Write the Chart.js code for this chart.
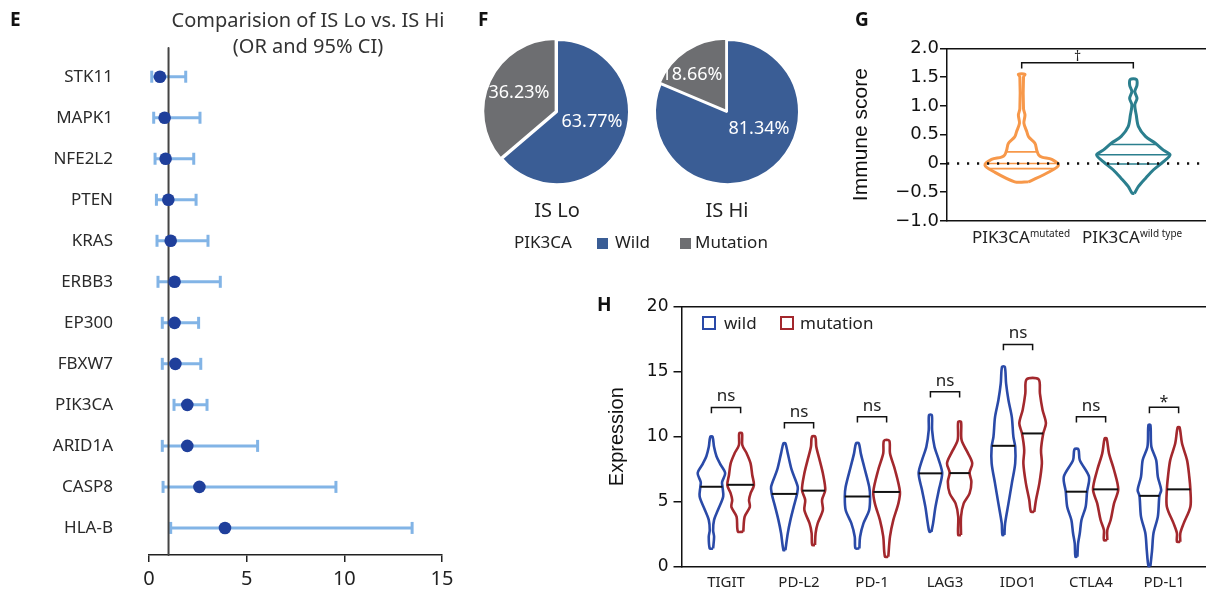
<!DOCTYPE html>
<html><head><meta charset="utf-8">
<script src="https://cdn.jsdelivr.net/npm/chart.js@4.4.1/dist/chart.umd.min.js"></script>
<style>
html,body{margin:0;padding:0;background:#fff;}
body{position:relative;width:1206px;height:596px;overflow:hidden;font-family:'Noto Sans',sans-serif;color:#222;}
canvas{position:absolute;}
.t{position:absolute;white-space:nowrap;line-height:1;}
.letter{font-weight:700;font-size:19px;color:#111;}
.sq{position:absolute;box-sizing:border-box;}
</style></head><body>
<canvas id="cE" width="460" height="596" style="left:0;top:0"></canvas>
<canvas id="cF1" width="180" height="180" style="left:467px;top:22px"></canvas>
<canvas id="cF2" width="180" height="180" style="left:637px;top:22px"></canvas>
<canvas id="cG" width="366" height="260" style="left:840px;top:0"></canvas>
<canvas id="cH" width="616" height="306" style="left:590px;top:290px"></canvas>

<div class="t letter" style="left:10px;top:10px">E</div>
<div class="t letter" style="left:478px;top:10px">F</div>
<div class="t letter" style="left:855px;top:10px">G</div>
<div class="t letter" style="left:597px;top:295px">H</div>

<div class="t" style="left:158px;top:6.5px;width:300px;text-align:center;font-size:20px;line-height:26px;color:#333">Comparision of IS Lo vs. IS Hi<br>(OR and 95% CI)</div>

<div class="t" id="pieName0" style="left:507px;top:200px;width:100px;text-align:center;font-size:20px;color:#222"></div>
<div class="t" id="pieName1" style="left:677px;top:200px;width:100px;text-align:center;font-size:20px;color:#222"></div>
<div class="t" style="left:514px;top:233px;font-size:17px;color:#222">PIK3CA</div>
<div class="sq" style="left:597px;top:238px;width:11px;height:11px;background:#3a5d95"></div>
<div class="t" id="legF0" style="left:615px;top:233px;font-size:17px;color:#222"></div>
<div class="sq" style="left:680px;top:238px;width:11px;height:11px;background:#6d6e71"></div>
<div class="t" id="legF1" style="left:695px;top:233px;font-size:17px;color:#222"></div>

<div class="t" id="gLab0" style="left:972px;top:228px;font-size:17px;color:#222"></div>
<div class="t" id="gLab1" style="left:1082px;top:228px;font-size:17px;color:#222"></div>

<div class="sq" style="left:702px;top:316px;width:14px;height:14px;border:2.5px solid #2a4aa8"></div>
<div class="t" id="legH0" style="left:724px;top:314px;font-size:17px;color:#222"></div>
<div class="sq" style="left:780px;top:316px;width:14px;height:14px;border:2.5px solid #a3282d"></div>
<div class="t" id="legH1" style="left:800px;top:314px;font-size:17px;color:#222"></div>

<script>
// ================= DATA =================
// Panel E: odds ratios and 95% CI
const genes   = ['STK11','MAPK1','NFE2L2','PTEN','KRAS','ERBB3','EP300','FBXW7','PIK3CA','ARID1A','CASP8','HLA-B'];
const orValues = [0.56,0.80,0.85,0.99,1.11,1.31,1.31,1.35,1.96,1.96,2.58,3.89];
const ciLow    = [0.14,0.24,0.31,0.38,0.41,0.46,0.68,0.68,1.28,0.68,0.72,1.11];
const ciHigh   = [1.88,2.61,2.29,2.41,3.02,3.65,2.54,2.65,2.97,5.56,9.57,13.47];
const orTicks  = [0,5,10,15];

// Panel F: PIK3CA status share
const pieGroups = ['IS Lo','IS Hi'];
const pieCategories = ['Wild','Mutation'];
const isLoPct = [63.77, 36.23];
const isHiPct = [81.34, 18.66];

// Panel G: immune score violins  [value, relative density]
const immuneGroups = ['mutated','wild type'];
const immuneTicks = [-1,-0.5,0,0.5,1,1.5,2];
const immuneMutated = [[-0.32,0.19],[-0.14,0.77],[-0.03,1.0],[0.07,0.82],[0.11,0.55],[0.15,0.46],[0.23,0.41],[0.35,0.36],[0.46,0.19],[0.55,0.14],[0.70,0.06],[0.84,0.09],[0.95,0.05],[1.50,0.05],[1.55,0.09]];
const immuneWild = [[-0.52,0.03],[-0.40,0.14],[-0.26,0.33],[-0.11,0.55],[0.03,0.82],[0.15,1.0],[0.23,0.82],[0.35,0.6],[0.47,0.33],[0.64,0.14],[0.84,0.08],[1.02,0.04],[1.13,0.1],[1.25,0.04],[1.36,0.1],[1.46,0.08]];
const immuneMutatedQuartiles = [-0.09, 0.0, 0.2];
const immuneWildQuartiles = [-0.01, 0.15, 0.33];
const immuneBracket = 1.75;

// Panel H: checkpoint expression violins [value, relative density]
const hGenes = ['TIGIT','PD-L2','PD-1','LAG3','IDO1','CTLA4','PD-L1'];
const hSeries = ['wild','mutation'];
const hTicks = [0,5,10,15,20];
const wildProfiles = [
  [[1.4,0.12],[2.3,0.19],[2.8,0.12],[3.6,0.19],[4.4,0.48],[5.4,0.84],[6.15,0.79],[6.5,0.76],[7.2,0.98],[7.95,0.6],[8.5,0.36],[9.2,0.19],[10.0,0.08]],
  [[1.28,0.07],[2.57,0.24],[3.6,0.43],[4.6,0.66],[5.59,0.9],[6.15,0.95],[7.44,0.52],[8.72,0.24],[9.49,0.07]],
  [[1.41,0.14],[2.31,0.19],[3.33,0.43],[4.36,0.84],[5.38,0.9],[6.15,0.84],[7.69,0.48],[8.72,0.24],[9.49,0.1]],
  [[2.69,0.07],[3.33,0.19],[4.6,0.36],[5.9,0.6],[7.18,0.84],[8.2,0.6],[9.23,0.29],[10.5,0.12],[11.67,0.1]],
  [[2.44,0.07],[3.33,0.12],[4.87,0.36],[6.41,0.6],[7.95,0.84],[9.23,0.84],[10.0,0.71],[11.5,0.6],[12.8,0.36],[14.1,0.19],[15.38,0.1]],
  [[0.77,0.07],[1.8,0.12],[2.57,0.24],[3.59,0.36],[4.62,0.66],[5.77,0.76],[6.92,0.9],[8.2,0.24],[9.03,0.14]],
  [[0.05,0.07],[1.28,0.19],[2.57,0.29],[3.85,0.6],[5.44,0.71],[5.9,0.84],[6.92,0.6],[8.2,0.48],[9.23,0.14],[10.9,0.07]]
];
const mutProfiles = [
  [[2.7,0.19],[3.85,0.29],[4.6,0.66],[5.13,0.6],[5.64,0.71],[6.28,0.95],[7.05,0.83],[7.95,0.71],[8.72,0.43],[9.36,0.12],[10.26,0.1]],
  [[1.67,0.1],[2.57,0.14],[3.33,0.29],[4.36,0.66],[5.13,0.6],[5.9,0.83],[7.18,0.66],[8.2,0.43],[9.23,0.19],[10.0,0.12]],
  [[0.77,0.12],[2.31,0.24],[3.6,0.48],[4.87,0.84],[5.77,0.95],[7.44,0.6],[8.72,0.24],[9.69,0.19]],
  [[2.44,0.1],[3.85,0.1],[4.87,0.29],[5.64,0.71],[6.54,0.84],[7.23,0.71],[7.95,0.9],[8.72,0.6],[9.74,0.14],[11.15,0.1]],
  [[4.23,0.12],[5.13,0.24],[6.41,0.48],[7.95,0.66],[8.97,0.6],[10.26,0.76],[11.03,0.95],[12.05,0.71],[13.33,0.52],[14.41,0.43]],
  [[2.05,0.12],[2.82,0.12],[3.59,0.36],[4.87,0.6],[5.95,0.9],[7.44,0.6],[8.72,0.24],[9.87,0.07]],
  [[1.92,0.12],[2.57,0.12],[3.33,0.36],[4.62,0.84],[5.9,0.84],[6.92,0.76],[8.2,0.6],[9.49,0.24],[10.72,0.07]]
];
const wildMedians = [6.15,5.6,5.4,7.18,9.3,5.77,5.45];
const mutMedians  = [6.3,5.85,5.75,7.2,10.25,5.95,5.95];
const bracketTops = [12.25,11.08,11.54,13.46,17.1,11.54,12.26];
const sigLabels   = ['ns','ns','ns','ns','ns','ns','*'];

// ================= HELPERS =================
const NOTO = "'Noto Sans', sans-serif";
const DEJAVU = "'DejaVu Sans', sans-serif";
const LIB = "'Liberation Sans', Arial, sans-serif";

function outline(profile, cx, W){
  const right = profile.map(([v,d])=>({x:cx+d*W, y:v}));
  const left = profile.slice().reverse().map(([v,d])=>({x:cx-d*W, y:v}));
  return right.concat(left, [right[0]]);
}
function halfAt(profile, v){
  for(let i=0;i<profile.length-1;i++){
    const [v0,d0]=profile[i],[v1,d1]=profile[i+1];
    if(v>=v0 && v<=v1) return d0+(d1-d0)*(v-v0)/(v1-v0);
  }
  return 0;
}
function seg(x0,x1,y){ return [{x:x0,y:y},{x:x1,y:y}]; }
function lineDs(data, color, width, order, extra){
  return Object.assign({type:'scatter', showLine:true, data, borderColor:color, borderWidth:width,
    pointRadius:0, pointHoverRadius:0, order, clip:false, borderJoinStyle:'round'}, extra||{});
}

// text from data
document.getElementById('pieName0').textContent = pieGroups[0];
document.getElementById('pieName1').textContent = pieGroups[1];
document.getElementById('legF0').textContent = pieCategories[0];
document.getElementById('legF1').textContent = pieCategories[1];
document.getElementById('legH0').textContent = hSeries[0];
document.getElementById('legH1').textContent = hSeries[1];
immuneGroups.forEach((g,i)=>{
  const el = document.getElementById('gLab'+i);
  el.innerHTML = 'PIK3CA<span style="font-size:10px;vertical-align:6px">'+g+'</span>';
});

Chart.defaults.animation = false;
Chart.defaults.events = [];
Chart.defaults.plugins.legend.display = false;
Chart.defaults.plugins.tooltip.enabled = false;

// ================= PANEL E =================
const errColor = '#82b4e6';
const eDatasets = [];
eDatasets.push({type:'scatter', data: genes.map((g,i)=>({x:orValues[i], y:i})), pointRadius:6.3,
  pointBackgroundColor:'#1f3f9b', pointBorderWidth:0, showLine:false, order:1, clip:false});
eDatasets.push(lineDs([{x:1,y:-0.7},{x:1,y:11.66}], '#444', 2, 2));
genes.forEach((g,i)=>{
  eDatasets.push(lineDs([{x:ciLow[i],y:i},{x:ciHigh[i],y:i}], errColor, 3, 3,
    {pointStyle:'line', pointRotation:90, pointRadius:6, pointBorderWidth:3, pointBorderColor:errColor}));
});
new Chart(document.getElementById('cE'), {
  type:'scatter',
  data:{datasets:eDatasets},
  options:{responsive:false, layout:{padding:{left:0,right:18,top:48,bottom:0}},
    scales:{
      x:{type:'linear', min:0, max:15,
        afterBuildTicks:s=>{s.ticks = orTicks.map(v=>({value:v}));},
        grid:{display:true, drawOnChartArea:false, drawTicks:true, tickLength:7, color:'#222', lineWidth:1.5},
        border:{display:true, color:'#222', width:1.5},
        ticks:{font:{family:NOTO,size:20}, color:'#222', padding:5, maxRotation:0},
        afterFit:s=>{s.height=41;}},
      y:{type:'linear', reverse:true, min:-0.7, max:11.66,
        afterBuildTicks:s=>{s.ticks = genes.map((g,i)=>({value:i}));},
        ticks:{callback:v=>genes[v], font:{family:NOTO,size:17}, color:'#2a2a2a', padding:1, autoSkip:false},
        grid:{display:false, drawTicks:true, tickLength:35}, border:{display:false},
        afterFit:s=>{s.width=149;}}
    }}
});

// ================= PANEL F =================
const pieLabelPlugin = {id:'pieLabels', afterDatasetsDraw(chart, args, opts){
  const meta = chart.getDatasetMeta(0), ctx = chart.ctx, vals = chart.data.datasets[0].data;
  ctx.save(); ctx.font = '18px '+NOTO; ctx.fillStyle='#fff'; ctx.textAlign='center'; ctx.textBaseline='middle';
  meta.data.forEach((arc,i)=>{ const o = opts.offsets[i]; ctx.fillText(vals[i].toFixed(2)+'%', arc.x+o[0], arc.y+o[1]); });
  ctx.restore();
}};
function makePie(id, values, offsets){
  new Chart(document.getElementById(id), {
    type:'pie',
    data:{labels:pieCategories, datasets:[{data:values, backgroundColor:['#3a5d95','#6d6e71'],
      borderColor:'#fff', borderWidth:2, offset:[0,6], radius:72}]},
    options:{responsive:false, plugins:{pieLabels:{offsets}}},
    plugins:[pieLabelPlugin]
  });
}
makePie('cF1', isLoPct, [[35,10],[-38,-19]]);
makePie('cF2', isHiPct, [[32,17],[-35,-37]]);

// ================= PANEL G =================
const sigPlugin = {id:'sig', afterDatasetsDraw(chart, args, opts){
  const {ctx} = chart, x = chart.scales.x, y = chart.scales.y;
  ctx.save(); ctx.fillStyle='#222'; ctx.textAlign='center'; ctx.textBaseline='alphabetic';
  opts.items.forEach(it=>{ ctx.font = it.font; ctx.fillText(it.text, x.getPixelForValue(it.x), y.getPixelForValue(it.y)-it.gap); });
  ctx.restore();
}};
const WG = 0.329;
const gColors = ['#f7984a','#2b7f8e'];
const gProfiles = [immuneMutated, immuneWild];
const gQuart = [immuneMutatedQuartiles, immuneWildQuartiles];
const gDatasets = [lineDs([{x:-0.669,y:0},{x:1.651,y:0}], '#111', 2.5, 0, {borderDash:[2.2,7.8], borderCapStyle:'butt'})];
gProfiles.forEach((p,i)=>{
  gDatasets.push(lineDs(outline(p,i,WG), gColors[i], 3, 2, {tension:0.3}));
  gQuart[i].forEach(q=>{ const h = halfAt(p,q)*WG; gDatasets.push(lineDs(seg(i-h,i+h,q), gColors[i], 1.6, 1)); });
});
gDatasets.push(lineDs([{x:0,y:immuneBracket-0.1},{x:0,y:immuneBracket},{x:1,y:immuneBracket},{x:1,y:immuneBracket-0.1}], '#111', 1.5, 1, {borderJoinStyle:'miter'}));
new Chart(document.getElementById('cG'), {
  type:'scatter',
  data:{datasets:gDatasets},
  options:{responsive:false, layout:{padding:{left:0,right:0,top:48.3,bottom:0}},
    plugins:{sig:{items:[{x:0.5, y:immuneBracket, text:'\u2020', gap:2, font:'14px '+NOTO}]}},
    scales:{
      x:{type:'linear', min:-0.669, max:1.651, ticks:{display:false}, grid:{display:false, drawTicks:false},
        border:{display:true, color:'#111', width:1.5}, afterFit:s=>{s.height=39;}},
      xTop:{type:'linear', position:'top', min:-0.669, max:1.651, ticks:{display:false}, grid:{display:false, drawTicks:false},
        border:{display:true, color:'#111', width:1.5}, afterFit:s=>{s.height=0;}},
      y:{type:'linear', min:-1, max:2,
        afterBuildTicks:s=>{s.ticks = immuneTicks.map(v=>({value:v}));},
        ticks:{callback:v=> v===0 ? '0' : (v<0?'\u2212':'')+Math.abs(v).toFixed(1), font:{family:DEJAVU,size:18}, color:'#111', padding:1},
        grid:{display:true, drawOnChartArea:false, drawTicks:true, tickLength:7, color:'#111', lineWidth:1.5},
        border:{display:true, color:'#111', width:1.5},
        title:{display:true, text:'Immune score', font:{family:LIB,size:21}, color:'#111', padding:{top:9,bottom:0}},
        afterFit:s=>{s.width=107;}}
    }},
  plugins:[sigPlugin]
});

// ================= PANEL H =================
const WH = 0.192, SIDE = 0.2;
const hColors = ['#2a4aa8','#a3282d'];
const hDatasets = [];
hGenes.forEach((g,i)=>{
  const cw = i-SIDE, cm = i+SIDE;
  hDatasets.push(lineDs(outline(wildProfiles[i],cw,WH), hColors[0], 2.6, 2, {tension:0.3}));
  hDatasets.push(lineDs(outline(mutProfiles[i],cm,WH), hColors[1], 2.6, 2, {tension:0.3}));
  const hw = halfAt(wildProfiles[i], wildMedians[i])*WH, hm = halfAt(mutProfiles[i], mutMedians[i])*WH;
  hDatasets.push(lineDs(seg(cw-hw,cw+hw,wildMedians[i]), '#111', 2, 1));
  hDatasets.push(lineDs(seg(cm-hm,cm+hm,mutMedians[i]), '#111', 2, 1));
  const b = bracketTops[i];
  hDatasets.push(lineDs([{x:cw,y:b-0.45},{x:cw,y:b},{x:cm,y:b},{x:cm,y:b-0.45}], '#111', 1.5, 1, {borderJoinStyle:'miter'}));
});
new Chart(document.getElementById('cH'), {
  type:'scatter',
  data:{datasets:hDatasets},
  options:{responsive:false, layout:{padding:{left:0,right:0,top:16.7,bottom:0}},
    plugins:{sig:{items:hGenes.map((g,i)=>({x:i, y:bracketTops[i], text:sigLabels[i],
      gap: sigLabels[i]==='*' ? 0 : 6, font:(sigLabels[i]==='*'?'16px ':'17px ')+NOTO}))}},
    scales:{
      x:{type:'linear', min:-0.603, max:6.575,
        afterBuildTicks:s=>{s.ticks = hGenes.map((g,i)=>({value:i}));},
        ticks:{callback:v=>hGenes[v], font:{family:NOTO,size:15}, color:'#222', padding:7, maxRotation:0, autoSkip:false},
        grid:{display:false, drawTicks:false}, border:{display:true, color:'#111', width:1.5},
        afterFit:s=>{s.height=29.3;}},
      xTop:{type:'linear', position:'top', min:-0.603, max:6.575, ticks:{display:false}, grid:{display:false, drawTicks:false},
        border:{display:true, color:'#111', width:1.5}, afterFit:s=>{s.height=0;}},
      y:{type:'linear', min:0, max:20,
        afterBuildTicks:s=>{s.ticks = hTicks.map(v=>({value:v}));},
        ticks:{font:{family:DEJAVU,size:17}, color:'#111', padding:5},
        grid:{display:true, drawOnChartArea:false, drawTicks:true, tickLength:8.5, color:'#111', lineWidth:1.5},
        border:{display:true, color:'#111', width:1.5},
        title:{display:true, text:'Expression', font:{family:LIB,size:20}, color:'#111', padding:{top:15,bottom:0}},
        afterFit:s=>{s.width=92;}}
    }},
  plugins:[sigPlugin]
});
</script>
</body></html>
